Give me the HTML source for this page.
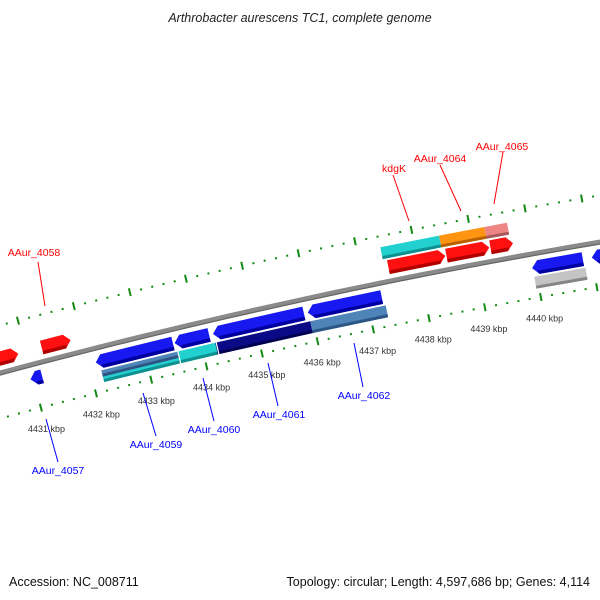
<!DOCTYPE html>
<html><head><meta charset="utf-8"><style>
html,body{margin:0;padding:0;background:#fff;}
svg{display:block;font-family:"Liberation Sans","DejaVu Sans",sans-serif;}
</style></head><body>
<svg id="map" width="600" height="600" viewBox="0 0 600 600">
<text x="300" y="22" text-anchor="middle" font-size="12.5" font-style="italic" fill="#222">Arthrobacter aurescens TC1, complete genome</text>
<g id="ticks"></g>
<g id="backbone"></g>
<g id="genes"></g>
<g id="labels">
<g stroke="#ff0000" stroke-width="1">
<line x1="38" y1="262" x2="45" y2="306"/>
<line x1="393" y1="175" x2="409" y2="221"/>
<line x1="440" y1="165" x2="461" y2="211"/>
<line x1="503" y1="152" x2="494" y2="204"/>
</g>
<g stroke="#0000ff" stroke-width="1">
<line x1="46" y1="419" x2="58" y2="462"/>
<line x1="143" y1="393" x2="156" y2="436"/>
<line x1="203" y1="378" x2="214" y2="421"/>
<line x1="268" y1="363" x2="278" y2="406"/>
<line x1="354" y1="343" x2="363" y2="387"/>
</g>
<g font-size="10.5" text-anchor="middle">
<text x="34" y="256" fill="#ff0000">AAur_4058</text>
<text x="394" y="172" fill="#ff0000">kdgK</text>
<text x="440" y="162" fill="#ff0000">AAur_4064</text>
<text x="502" y="150" fill="#ff0000">AAur_4065</text>
<text x="58" y="474" fill="#0000ff">AAur_4057</text>
<text x="156" y="448" fill="#0000ff">AAur_4059</text>
<text x="214" y="433" fill="#0000ff">AAur_4060</text>
<text x="279" y="418" fill="#0000ff">AAur_4061</text>
<text x="364" y="399" fill="#0000ff">AAur_4062</text>
</g>
</g>
<text x="9" y="586" font-size="12.5" fill="#111">Accession: NC_008711</text>
<text x="590" y="586" font-size="12.5" fill="#111" text-anchor="end">Topology: circular; Length: 4,597,686 bp; Genes: 4,114</text>
</svg>
<script>
// ---- data ----
const tickLabelsKbp = [4431, 4432, 4433, 4434, 4435, 4436, 4437, 4438, 4439, 4440];
// genes: start kbp, end kbp, strand (+1 forward / -1 reverse)
const geneStarts = [4430.2, 4431.28, 4437.48, 4438.51, 4439.29, 4430.95, 4432.13, 4433.55, 4434.24, 4435.94, 4439.94, 4441.0];
const geneEnds   = [4430.86, 4431.80, 4438.49, 4439.27, 4439.69, 4431.16, 4433.52, 4434.17, 4435.87, 4437.26, 4440.84, 4441.8];
const geneStrands= [1, 1, 1, 1, 1, -1, -1, -1, -1, -1, -1, -1];
const featStarts = [4437.41, 4438.45, 4439.25, 4432.19, 4432.19, 4433.57, 4434.24, 4435.95, 4439.95];
const featEnds   = [4438.45, 4439.25, 4439.65, 4433.57, 4433.57, 4434.26, 4435.95, 4437.30, 4440.86];
const featStrands= [1, 1, 1, -1, -1, -1, -1, -1, -1];
const featKinds  = ['cyan','orange','pink','steel-top','cyan-bottom','cyan','navy','steel','gray'];

// ---- geometry ----
const CX = 1671.6, CY = 6589.8, R = 6437.6;
const TH0 = -0.2223, DTH = 0.0089, K0 = 4435;
function pt(k, r){ const t = TH0 + (k - K0) * DTH; return [CX + r * Math.sin(t), CY - r * Math.cos(t)]; }
const NS = 'http://www.w3.org/2000/svg';
function mk(tag, attrs, parent){ const e = document.createElementNS(NS, tag); for (const a in attrs) e.setAttribute(a, attrs[a]); parent.appendChild(e); return e; }
function ps(arr){ return arr.map(p => p[0].toFixed(1) + ',' + p[1].toFixed(1)).join(' '); }

// ticks
const tg = document.getElementById('ticks');
[R + 46, R - 44].forEach((rr, li) => {
  for (let i = 0; i <= 70; i++) {
    const k = 4429 + i * 0.2;
    const major = Math.abs(k - Math.round(k)) < 1e-6;
    const a = pt(k, rr - (major ? 4 : 1)), b = pt(k, rr + (major ? 4 : 1));
    const l = mk('line', {x1:a[0], y1:a[1], x2:b[0], y2:b[1], stroke:'#138a13', 'stroke-width':2}, tg);
    
    
  }
});
tickLabelsKbp.forEach(k => {
  const p = pt(k, R - 66);
  const t = mk('text', {x:p[0], y:p[1] + 3, 'font-size':9, fill:'#333', 'text-anchor':'middle'}, tg);
  t.textContent = k + ' kbp';
  
  
});

// backbone
const bg = document.getElementById('backbone');
function arcPts(k1, k2, r){ const a = []; for (let i = 0; i <= 40; i++) a.push(pt(k1 + (k2 - k1) * i / 40, r)); return a; }
const bb = mk('polyline', {points: ps(arcPts(4429, 4442, R)), fill:'none', stroke:'#8a8a8a', 'stroke-width':5}, bg);


const bb2 = mk('polyline', {points: ps(arcPts(4429, 4442, R - 2)), fill:'none', stroke:'#666', 'stroke-width':1.2}, bg);



// genes
const gg = document.getElementById('genes');
const colors = {
  red:['#ff1010','#b00000'], blue:['#1818f0','#0000a0'], cyan:['#22d0d0','#0e9090'],
  orange:['#ff9412','#b86000'], pink:['#ee8585','#a85858'], steel:['#4f84b8','#2b5582'],
  navy:['#0a0a86','#000050'], gray:['#c4c4c4','#858585'], 'steel-top':['#4f84b8','#2b5582'], 'cyan-bottom':['#22d0d0','#0e9090']
};
function band(s, e, r1, r2, col, name){
  const poly = [pt(s, r1), pt(e, r1), pt(e, r2), pt(s, r2)];
  const p = mk('polygon', {points: ps(poly), fill: col}, gg);
  
  
}
geneStarts.forEach((s, i) => {
  const e = geneEnds[i], st = geneStrands[i];
  const c = st > 0 ? colors.red : colors.blue;
  const r1 = st > 0 ? R + 7 : R - 7, r2 = st > 0 ? R + 21 : R - 21, rm = (r1 + r2) / 2;
  const h = Math.min(0.11, (e - s) * 0.6);
  let poly;
  if (st > 0) poly = [pt(s, r1), pt(e - h, r1), pt(e, rm), pt(e - h, r2), pt(s, r2)];
  else poly = [pt(e, r1), pt(s + h, r1), pt(s, rm), pt(s + h, r2), pt(e, r2)];
  const p = mk('polygon', {points: ps(poly), fill: c[0]}, gg);
  
  
  const lowR = st > 0 ? r1 : r2, bevR = st > 0 ? r1 + 3.5 : r2 + 3.5;
  const bev = st > 0 ? [pt(s, lowR), pt(e - h, lowR), pt(e - h * 0.75, bevR), pt(s, bevR)]
                     : [pt(e, lowR), pt(s + h, lowR), pt(s + h * 0.75, bevR), pt(e, bevR)];
  const b = mk('polygon', {points: ps(bev), fill: c[1]}, gg);
  
  
});
featStarts.forEach((s, i) => {
  const e = featEnds[i], st = featStrands[i], kind = featKinds[i], c = colors[kind];
  let r1, r2;
  if (st > 0) { r1 = R + 23; r2 = R + 35; }
  else if (kind === 'steel-top') { r1 = R - 23; r2 = R - 29.5; }
  else if (kind === 'cyan-bottom') { r1 = R - 29.5; r2 = R - 35; }
  else { r1 = R - 23; r2 = R - 35; }
  const lo = Math.min(r1, r2), hi = Math.max(r1, r2);
  band(s, e, lo, hi, c[0], 'cds-feature-' + kind);
  band(s, e, lo, lo + 3, c[1], 'cds-feature-shade');
});
[featEnds[3], featEnds[5]].forEach(k => {
  const a = pt(k, R - 22), b = pt(k, R - 36);
  const l = mk('line', {x1:a[0], y1:a[1], x2:b[0], y2:b[1], stroke:'#fff', 'stroke-width':1.2}, gg);
  
  
});
</script>
</body></html>
